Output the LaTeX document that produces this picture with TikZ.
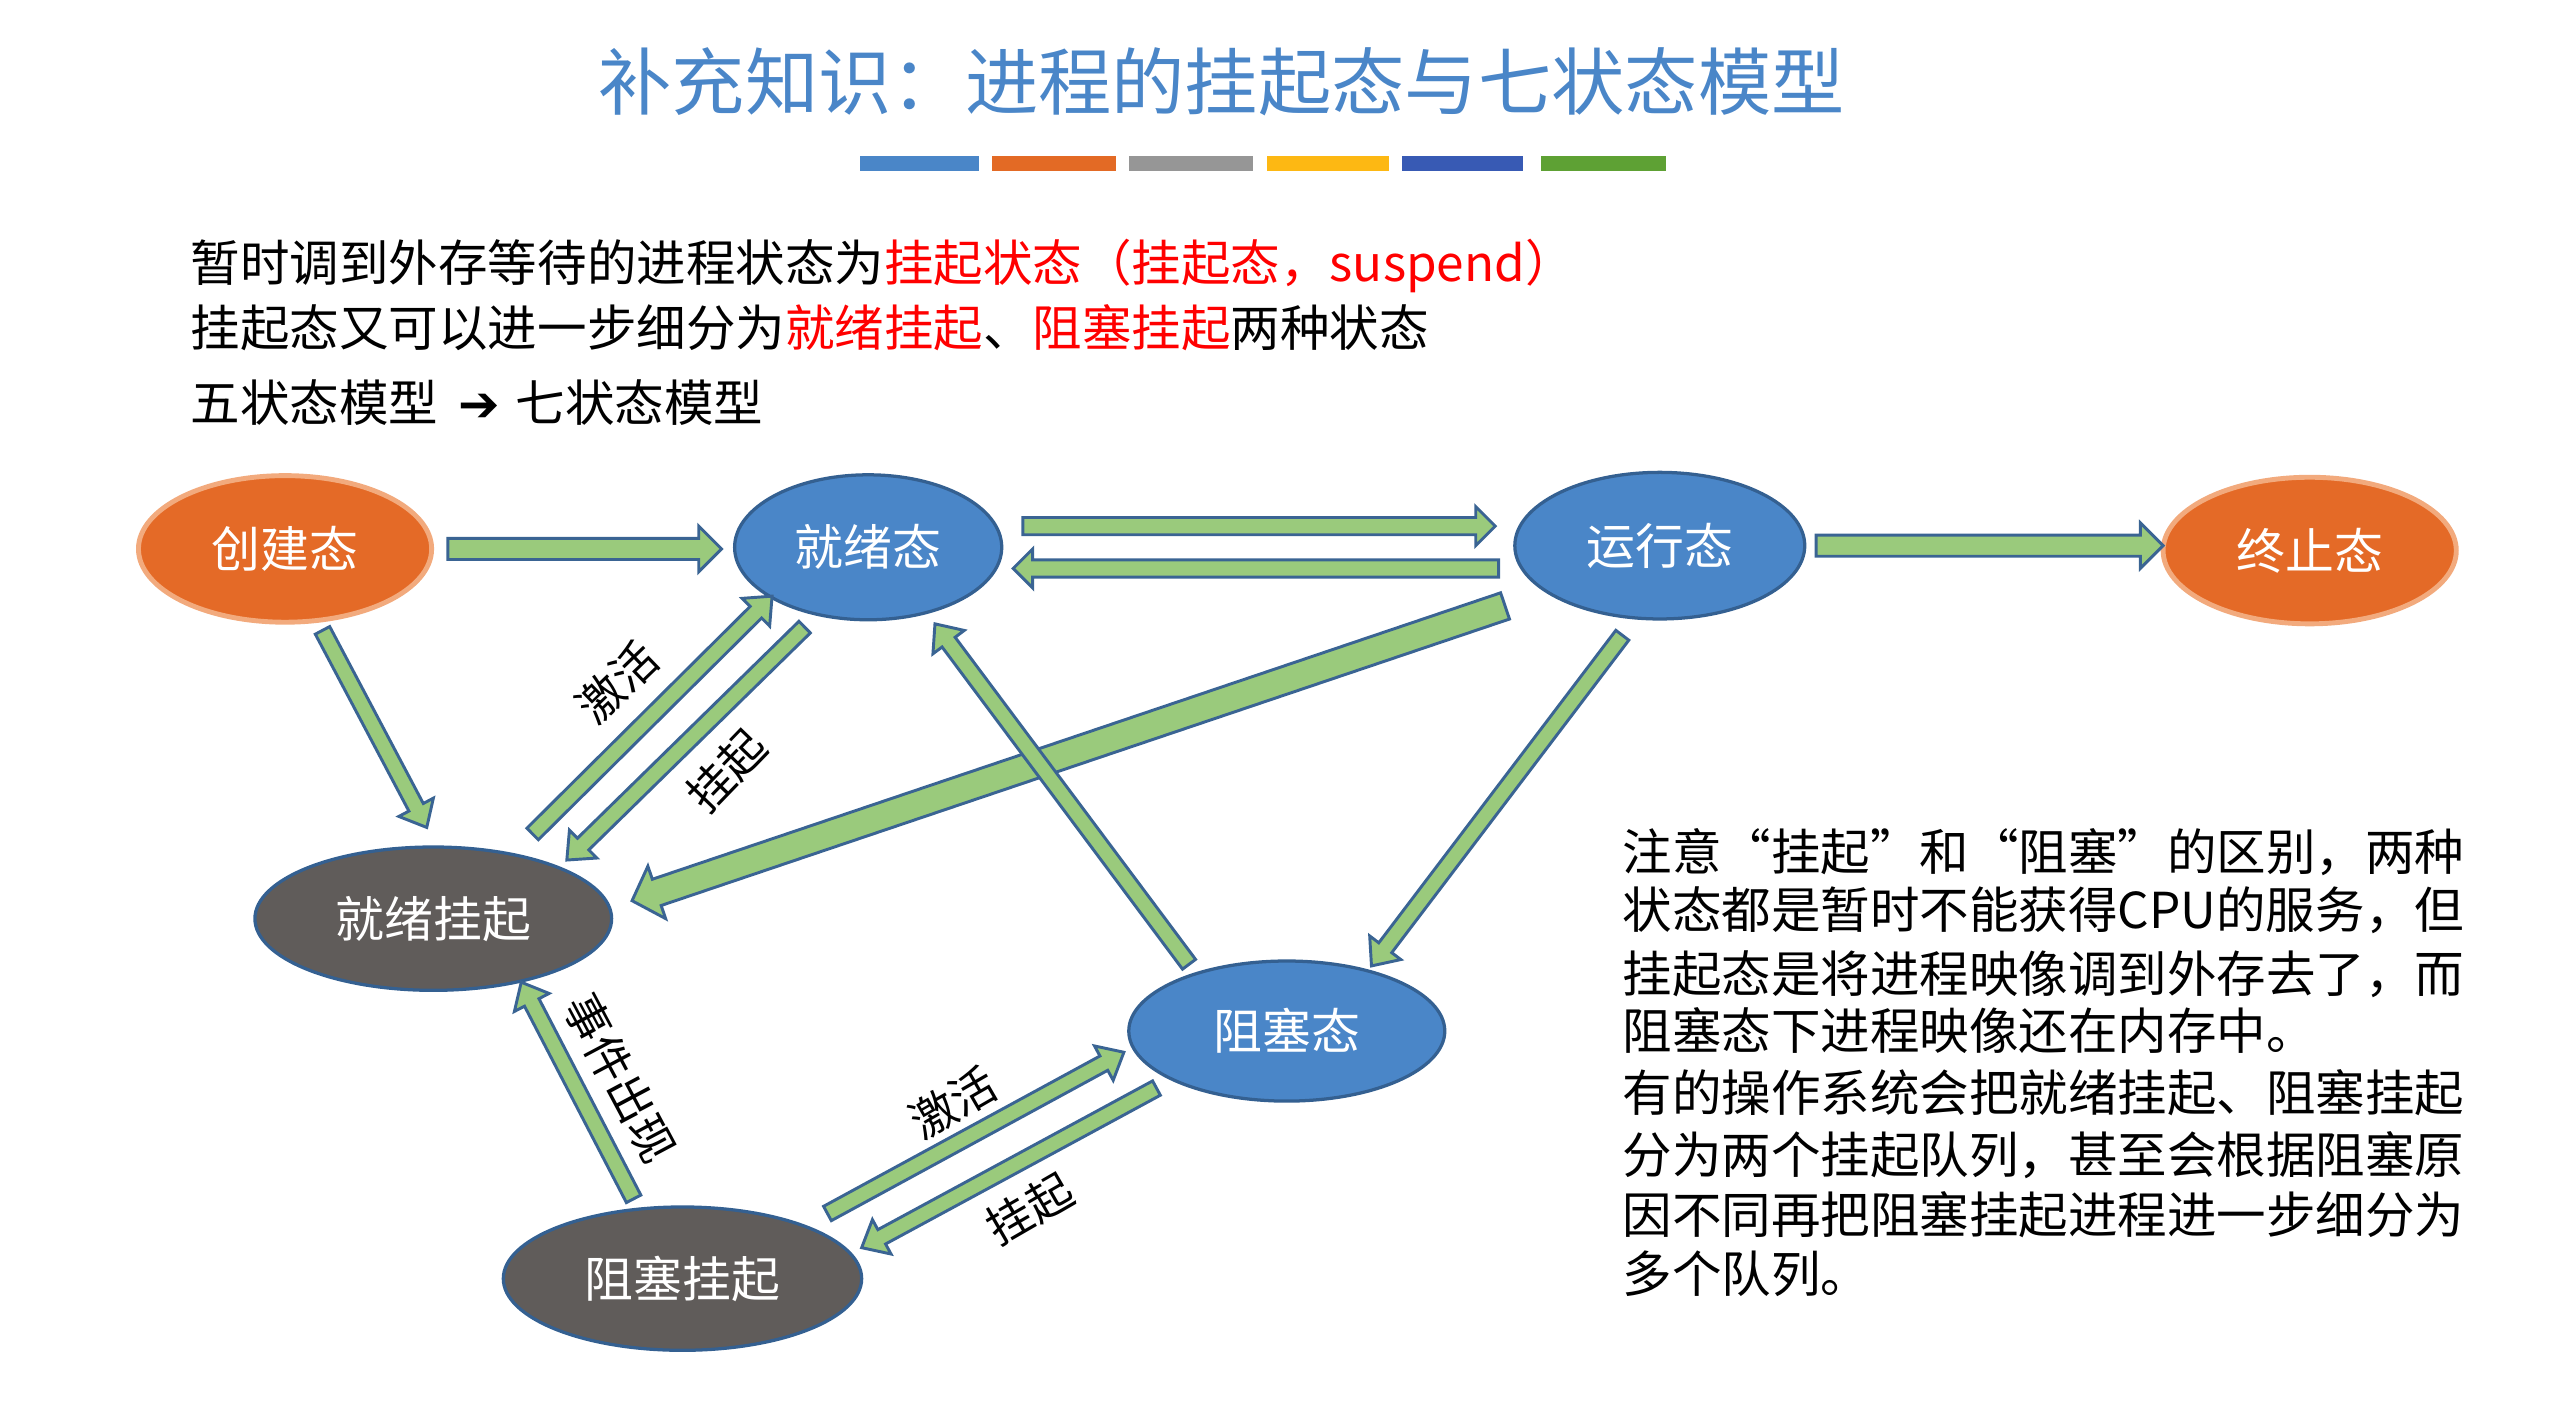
\documentclass[tikz,border=0pt]{standalone}
\usepackage{fontspec}
\setmainfont{Noto Sans CJK SC}
\newfontfamily\dejavu{DejaVu Sans}
\usetikzlibrary{shapes.geometric,calc}
\definecolor{titleblue}{RGB}{74,134,200}
\definecolor{sblue}{RGB}{74,134,200}
\definecolor{sborder}{RGB}{52,96,145}
\definecolor{sorange}{RGB}{228,106,39}
\definecolor{oborder}{RGB}{242,170,125}
\definecolor{sgray}{RGB}{96,92,90}
\definecolor{arrgreen}{RGB}{154,202,124}
\definecolor{arrborder}{RGB}{58,100,147}
\definecolor{barA}{RGB}{74,134,200}
\definecolor{barB}{RGB}{227,106,37}
\definecolor{barC}{RGB}{150,150,150}
\definecolor{barD}{RGB}{253,184,19}
\definecolor{barE}{RGB}{56,90,180}
\definecolor{barF}{RGB}{94,161,52}
\definecolor{redtext}{RGB}{255,0,0}
\newcommand{\blockarrow}[6][]{%
  \path (#2); \pgfgetlastxy{\bax}{\bay}%
  \path (#3); \pgfgetlastxy{\bbx}{\bby}%
  \pgfmathsetmacro{\bang}{atan2(\bby-\bay,\bbx-\bax)}%
  \pgfmathsetmacro{\blen}{100*veclen((\bbx-\bax)/100,(\bby-\bay)/100)}%
  \pgfmathsetmacro{\bneck}{\blen-#6}%
  \filldraw[blockarr,#1,shift={(\bax,\bay)},rotate=\bang] (0,-#4) -- (\bneck,-#4) -- (\bneck,-#5) -- (\blen,0) -- (\bneck,#5) -- (\bneck,#4) -- (0,#4) -- cycle;
}
\tikzset{
  blockarr/.style={fill=arrgreen, draw=arrborder, line width=1.8pt, line join=miter},
  statebase/.style={ellipse, inner sep=0pt, text=white, font=\fontsize{30}{36}\selectfont},
  bstate/.style={statebase, fill=sblue, draw=sborder, line width=2pt},
  ostate/.style={statebase, fill=sorange, draw=oborder, line width=3pt},
  gstate/.style={statebase, fill=sgray, draw=sborder, line width=2pt},
  lbl/.style={inner sep=0pt, font=\fontsize{28}{30}\selectfont},
  body/.style={anchor=west, inner sep=0pt, font=\fontsize{30.4}{36}\selectfont},
}
\begin{document}
\begin{tikzpicture}[x=1pt,y=1pt]
\useasboundingbox (0,0) rectangle (1568,-867);
% title
\node[inner sep=0pt, text=titleblue, font=\fontsize{45}{54}\selectfont] (title) at (750,-50) {补充知识：进程的挂起态与七状态模型};
\fill[barA] (528,-96) rectangle (601,-105);
\fill[barB] (609,-96) rectangle (685,-105);
\fill[barC] (693,-96) rectangle (769,-105);
\fill[barD] (778,-96) rectangle (853,-105);
\fill[barE] (861,-96) rectangle (935,-105);
\fill[barF] (946,-96) rectangle (1023,-105);
% intro text
\node[body] (t1) at (117,-163) {暂时调到外存等待的进程状态为\textcolor{redtext}{挂起状态（挂起态，suspend）}};
\node[body] (t2) at (117,-201) {挂起态又可以进一步细分为\textcolor{redtext}{就绪挂起}、\textcolor{redtext}{阻塞挂起}两种状态};
\node[body] (t3) at (117,-247) {五状态模型\hspace{12pt}{\dejavu\bfseries ➔}\hspace{10pt}七状态模型};
% states
\node[ostate, minimum width=180pt, minimum height=90pt] (create) at (175,-337) {创建态};
\node[bstate, minimum width=164pt, minimum height=89pt] (ready) at (533,-336) {就绪态};
\node[bstate, minimum width=178pt, minimum height=90pt] (run) at (1019,-335) {运行态};
\node[ostate, minimum width=180pt, minimum height=90pt] (exit) at (1418,-338) {终止态};
\node[gstate, minimum width=219pt, minimum height=88pt] (rsusp) at (266,-564) {就绪挂起};
\node[bstate, minimum width=194pt, minimum height=86pt] (block) at (790,-633) {阻塞态};
\node[gstate, minimum width=220pt, minimum height=88pt] (bsusp) at (419,-785) {阻塞挂起};
% arrow end points
\coordinate (a1s) at (275,-337);  \coordinate (a1e) at (443,-337);
\coordinate (a2s) at (628,-323);  \coordinate (a2e) at (918,-323);
\coordinate (a3s) at (920,-349);  \coordinate (a3e) at (622,-349);
\coordinate (a4s) at (1115,-335); \coordinate (a4e) at (1328,-335);
\coordinate (a5s) at (198,-387);  \coordinate (a5e) at (262,-508);
\coordinate (a6s) at (327,-512);  \coordinate (a6e) at (474,-366);
\coordinate (a7s) at (494,-385);  \coordinate (a7e) at (348,-528);
\coordinate (a8s) at (924,-372);  \coordinate (a8e) at (388,-553);
\coordinate (a9s) at (730,-592);  \coordinate (a9e) at (574,-383);
\coordinate (a10s) at (996,-390); \coordinate (a10e) at (842,-593);
\coordinate (a11s) at (389,-736); \coordinate (a11e) at (320,-603);
\coordinate (a12s) at (508,-745); \coordinate (a12e) at (690,-646);
\coordinate (a13s) at (710,-668); \coordinate (a13e) at (529,-766);
% arrows
\blockarrow{a1s}{a1e}{6.5}{14}{14}
\blockarrow{a2s}{a2e}{5.3}{12}{12}
\blockarrow{a3s}{a3e}{5.3}{12}{12}
\blockarrow{a4s}{a4e}{6.5}{14}{14}
\blockarrow{a5s}{a5e}{5}{12}{14}
\blockarrow{a6s}{a6e}{5}{12}{14}
\blockarrow{a7s}{a7e}{5}{12}{14}
\blockarrow{a8s}{a8e}{8.5}{17}{16}
\blockarrow{a9s}{a9e}{5}{12}{14}
\blockarrow{a10s}{a10e}{5}{12}{14}
\blockarrow{a11s}{a11e}{5}{12}{14}
\blockarrow{a12s}{a12e}{5}{12}{14}
\blockarrow{a13s}{a13e}{5}{12}{14}
% labels
\node[lbl, rotate=44] (l1) at (379,-419) {激活};
\node[lbl, rotate=46] (l2) at (446,-473) {挂起};
\node[lbl, rotate=-62] (l3) at (381,-662) {事件出现};
\node[lbl, rotate=30] (l4) at (585,-677) {激活};
\node[lbl, rotate=30] (l5) at (632,-742) {挂起};
% right note
\node[body] (n1) at (996,-523) {注意“挂起”和“阻塞”的区别，两种};
\node[body] (n2) at (996,-559) {状态都是暂时不能获得CPU的服务，但};
\node[body] (n3) at (996,-598) {挂起态是将进程映像调到外存去了，而};
\node[body] (n4) at (996,-633) {阻塞态下进程映像还在内存中。};
\node[body] (n5) at (996,-671) {有的操作系统会把就绪挂起、阻塞挂起};
\node[body] (n6) at (996,-709) {分为两个挂起队列，甚至会根据阻塞原};
\node[body] (n7) at (996,-746) {因不同再把阻塞挂起进程进一步细分为};
\node[body] (n8) at (996,-782) {多个队列。};
\end{tikzpicture}
\end{document}
